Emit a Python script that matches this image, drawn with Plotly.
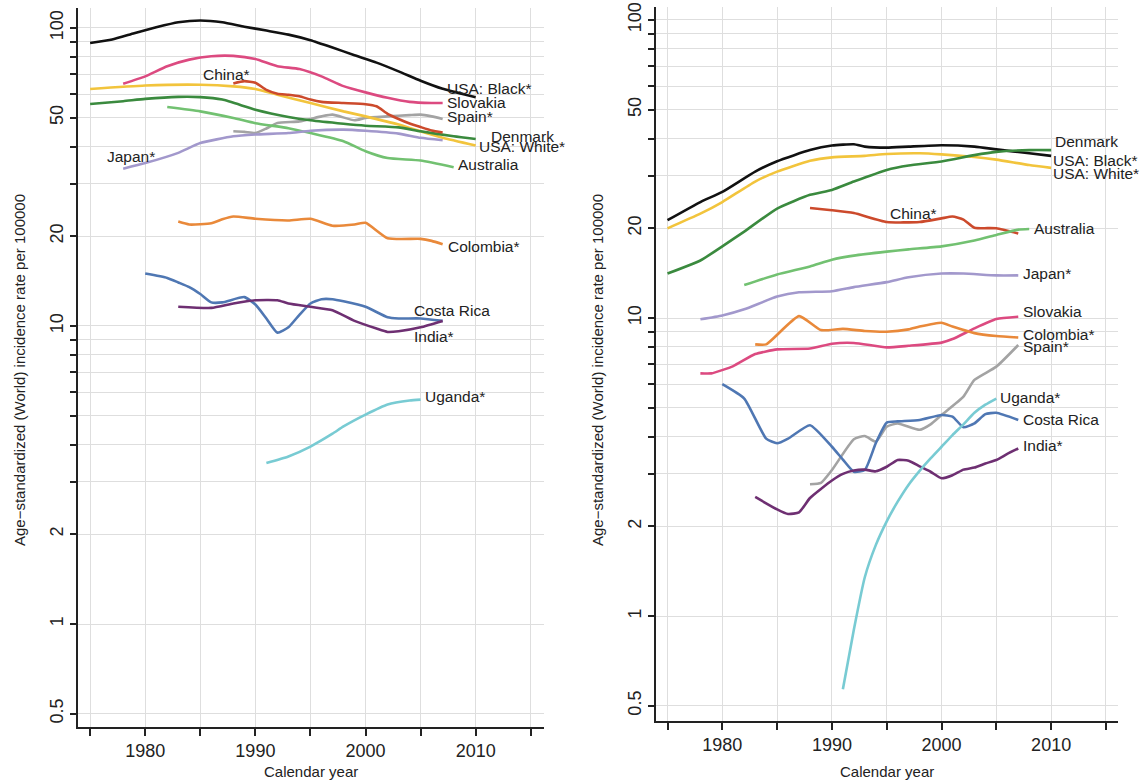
import numpy as np
import plotly.graph_objects as go

# ---------------- data: left panel ----------------
L_black_yr = [1975,1977,1979,1981,1983,1985,1987,1989,1991,1993,1995,1997,1999,2001,2003,2005,2007,2009,2010]
L_black = [89,91.5,96,100.5,104.5,106,104.5,101,98,95,91,86,81,76.5,71.5,66.5,62.5,59.8,58.6]
L_slovakia_yr = [1978,1980,1982,1984,1986,1988,1990,1992,1994,1996,1998,2000,2002,2004,2006,2007]
L_slovakia = [65,68.8,74.4,78.3,80.4,80.6,78.7,74.4,72.8,68.8,63.8,60.8,58.3,56.5,56,56]
L_china_yr = [1988,1989,1990,1991,1992,1993,1994,1995,1996,1998,2000,2001,2002,2003,2004,2005,2006,2007]
L_china = [65.1,66.3,65.5,62,60.2,59.7,59,57.5,56.5,56,55.5,54.6,51.5,49.5,47.8,46.5,45.3,44.6]
L_spain_yr = [1988,1989,1990,1991,1992,1994,1996,1997,1999,2000,2002,2004,2005,2006,2007]
L_spain = [45,44.8,44.4,46,48,48.6,50.5,51.2,49,49.9,50.5,51,51.2,50.5,49.5]
L_white_yr = [1975,1980,1985,1988,1990,1992,1995,1998,2000,2003,2005,2007,2010]
L_white = [62.4,64.1,64.5,63.7,62.4,59.7,56,52.5,50.5,47.4,45,42.8,40.3]
L_denmark_yr = [1975,1978,1980,1983,1985,1987,1990,1993,1995,1998,2000,2003,2005,2008,2010]
L_denmark = [55.6,56.8,57.8,58.7,58.6,57.5,53.2,50.3,49,47.7,47,46.4,45,43.3,42.4]
L_australia_yr = [1982,1985,1988,1990,1993,1995,1998,2000,2002,2005,2008]
L_australia = [54.3,52.5,49.9,47.9,46.1,44.4,41.7,38.6,36.6,35.9,34.1]
L_japan_yr = [1978,1980,1983,1985,1988,1990,1993,1995,1998,2000,2003,2005,2007]
L_japan = [33.7,35.2,38.1,41.1,43.3,43.9,44.4,45.2,45.6,45.2,44.2,42.8,42]
L_colombia_yr = [1983,1984,1986,1987,1988,1990,1993,1995,1997,1999,2000,2002,2005,2006,2007]
L_colombia = [22.4,21.9,22.1,22.8,23.3,22.9,22.6,22.9,21.7,21.9,22.2,19.7,19.6,19.3,18.8]
L_costa_yr = [1980,1982,1983,1984,1985,1986,1987,1989,1990,1991,1992,1993,1994,1995,1996,1997,1998,2000,2002,2003,2005,2007]
L_costa = [15.0,14.5,14.0,13.5,12.8,12.0,12.0,12.5,11.8,10.6,9.5,9.9,10.9,11.9,12.3,12.3,12.1,11.6,10.7,10.6,10.6,10.4]
L_india_yr = [1983,1986,1988,1990,1992,1993,1995,1997,1999,2001,2002,2003,2005,2007]
L_india = [11.6,11.5,11.9,12.2,12.2,11.9,11.6,11.3,10.4,9.8,9.55,9.6,9.9,10.4]
L_uganda_yr = [1991,1993,1995,1997,1998,2000,2002,2004,2005]
L_uganda = [3.47,3.65,3.94,4.35,4.6,5.04,5.45,5.62,5.66]

# ---------------- data: right panel ----------------
R_black_yr = [1975,1978,1980,1983,1985,1988,1990,1992,1993,1995,1997,2000,2003,2005,2008,2010]
R_black = [21.3,24.5,26.5,31,33.6,36.6,37.9,38.3,37.6,37.3,37.6,38,37.6,36.8,35.7,35]
R_white_yr = [1975,1978,1980,1983,1985,1988,1990,1993,1995,1998,2000,2003,2005,2008,2010]
R_white = [20,22.4,24.5,28.7,31,33.7,34.6,35,35.5,35.7,35.4,34.7,34,32.6,31.9]
R_denmark_yr = [1975,1978,1980,1982,1985,1988,1990,1992,1995,1997,2000,2003,2005,2008,2010]
R_denmark = [14.1,15.6,17.4,19.5,23.3,25.9,26.9,28.7,31.4,32.5,33.5,35.2,36.1,36.6,36.6]
R_china_yr = [1988,1990,1992,1995,1998,2000,2001,2002,2003,2005,2007]
R_china = [23.4,23,22.5,21,21,21.6,21.9,21.4,20.1,20,19.2]
R_australia_yr = [1982,1985,1988,1990,1992,1995,1997,2000,2003,2005,2007,2008]
R_australia = [12.9,14,14.9,15.7,16.2,16.7,17,17.4,18.2,19,19.8,19.9]
R_japan_yr = [1978,1980,1982,1985,1987,1990,1992,1995,1997,2000,2002,2005,2007]
R_japan = [9.9,10.2,10.7,11.8,12.2,12.3,12.7,13.2,13.7,14.1,14.1,13.9,13.9]
R_slovakia_yr = [1978,1979,1981,1983,1985,1988,1990,1992,1995,1997,2000,2001,2003,2005,2007]
R_slovakia = [6.52,6.52,6.9,7.57,7.85,7.9,8.2,8.25,7.97,8.07,8.27,8.5,9.23,9.92,10.1]
R_colombia_yr = [1983,1984,1987,1989,1991,1993,1995,1997,1998,2000,2001,2003,2005,2007]
R_colombia = [8.16,8.16,10.15,9.11,9.2,9.05,9.0,9.16,9.36,9.64,9.36,8.9,8.7,8.6]
R_spain_yr = [1988,1989,1990,1992,1993,1994,1995,1996,1998,1999,2000,2002,2003,2005,2007]
R_spain = [2.77,2.8,3.09,3.92,4.02,3.85,4.32,4.43,4.22,4.4,4.73,5.45,6.2,6.87,8.12]
R_uganda_yr = [1991,1992,1993,1994,1995,1996,1997,1998,1999,2000,2001,2002,2003,2004,2005]
R_uganda = [0.568,0.9,1.35,1.73,2.08,2.42,2.76,3.07,3.38,3.7,4.05,4.4,4.81,5.12,5.37]
R_costa_yr = [1980,1982,1984,1985,1986,1988,1990,1991,1992,1993,1994,1995,1996,1998,2000,2001,2002,2003,2004,2005,2007]
R_costa = [6.0,5.37,3.94,3.80,3.94,4.37,3.70,3.35,3.05,3.09,3.80,4.46,4.5,4.55,4.73,4.67,4.3,4.43,4.76,4.81,4.55]
R_india_yr = [1983,1985,1986,1987,1988,1990,1991,1992,1993,1994,1995,1996,1997,1998,1999,2000,2001,2002,2003,2004,2005,2006,2007]
R_india = [2.51,2.28,2.2,2.23,2.49,2.85,3.0,3.08,3.1,3.06,3.17,3.34,3.32,3.18,3.05,2.9,2.97,3.1,3.15,3.25,3.34,3.5,3.65]

# label positions (year, value)
L_labels = [("USA: Black*", 2007.3, 62.5), ("Slovakia", 2007.3, 56.1), ("Spain*", 2007.3, 50.3),
            ("Denmark", 2011.3, 43.2), ("USA: White*", 2010.2, 40.0), ("Australia", 2008.3, 34.8),
            ("Japan*", 1976.4, 37.0), ("China*", 1985.2, 69.7), ("Colombia*", 2007.4, 18.5),
            ("Costa Rica", 2004.3, 11.3), ("India*", 2004.3, 9.2), ("Uganda*", 2005.3, 5.8)]
R_labels = [("Denmark", 2010.3, 39.0), ("USA: Black*", 2010.1, 33.9), ("USA: White*", 2010.1, 30.6),
            ("China*", 1995.2, 22.5), ("Australia", 2008.3, 20.0), ("Japan*", 2007.3, 14.1),
            ("Slovakia", 2007.3, 10.5), ("Colombia*", 2007.3, 8.83), ("Spain*", 2007.3, 8.0),
            ("Uganda*", 2005.2, 5.43), ("Costa Rica", 2007.3, 4.58), ("India*", 2007.3, 3.75)]

grid_vals = [0.5, 1, 2, 3, 4, 5, 6, 7, 8, 9, 10, 20, 30, 40, 50, 60, 70, 80, 90, 100]
label_vals = {0.5: "0.5", 1: "1", 2: "2", 10: "10", 20: "20", 50: "50", 100: "100"}
x_ticks = [1975, 1980, 1985, 1990, 1995, 2000, 2005, 2010, 2015]
x_labels = {1980: "1980", 1990: "1990", 2000: "2000", 2010: "2010"}

colors = {
    "black": "#111111", "slovakia": "#dc4a80", "china": "#cc4a2c", "spain": "#a3a3a3",
    "white": "#f2c43c", "denmark": "#3a8a3e", "australia": "#72c171", "japan": "#a298cc",
    "colombia": "#e9893a", "costa": "#4f77b3", "india": "#6e2f72", "uganda": "#78cbd3",
}

FONT = "Liberation Sans, Arial, sans-serif"
LABEL_SIZE = 15.5
# the page's body margin is removed (post_script) so the figure fills the window
W, H = 1144, 782
def px(p):
    return min(1.0, max(0.0, p / W))
def py(p):
    return min(1.0, max(0.0, 1 - p / H))

fig = go.Figure()

left = [("black", L_black_yr, L_black), ("slovakia", L_slovakia_yr, L_slovakia), ("spain", L_spain_yr, L_spain),
        ("white", L_white_yr, L_white), ("denmark", L_denmark_yr, L_denmark), ("australia", L_australia_yr, L_australia),
        ("japan", L_japan_yr, L_japan), ("china", L_china_yr, L_china), ("colombia", L_colombia_yr, L_colombia),
        ("costa", L_costa_yr, L_costa), ("india", L_india_yr, L_india), ("uganda", L_uganda_yr, L_uganda)]
right = [("black", R_black_yr, R_black), ("white", R_white_yr, R_white), ("denmark", R_denmark_yr, R_denmark),
         ("china", R_china_yr, R_china), ("australia", R_australia_yr, R_australia), ("japan", R_japan_yr, R_japan),
         ("slovakia", R_slovakia_yr, R_slovakia), ("colombia", R_colombia_yr, R_colombia), ("spain", R_spain_yr, R_spain),
         ("costa", R_costa_yr, R_costa), ("india", R_india_yr, R_india), ("uganda", R_uganda_yr, R_uganda)]

for key, xs, ys in left:
    fig.add_trace(go.Scatter(x=xs, y=ys, mode="lines", xaxis="x", yaxis="y",
                             line=dict(color=colors[key], width=2.6, shape="spline", smoothing=0.5),
                             showlegend=False, hoverinfo="skip"))
for key, xs, ys in right:
    fig.add_trace(go.Scatter(x=xs, y=ys, mode="lines", xaxis="x2", yaxis="y2",
                             line=dict(color=colors[key], width=2.6, shape="spline", smoothing=0.5),
                             showlegend=False, hoverinfo="skip"))

annotations = []
for txt, xx, yy in L_labels:
    annotations.append(dict(text=txt, x=xx, y=np.log10(yy), xref="x", yref="y", xanchor="left",
                            yanchor="middle", showarrow=False, borderpad=0,
                            font=dict(size=LABEL_SIZE, color="#222", family=FONT)))
for txt, xx, yy in R_labels:
    annotations.append(dict(text=txt, x=xx, y=np.log10(yy), xref="x2", yref="y2", xanchor="left",
                            yanchor="middle", showarrow=False, borderpad=0,
                            font=dict(size=LABEL_SIZE, color="#222", family=FONT)))

ytitle = "Age\u2212standardized (World) incidence rate per 100000"
for xp in (px(19), px(597)):
    annotations.append(dict(text=ytitle, x=xp, y=py(370), xref="paper", yref="paper", textangle=-90,
                            showarrow=False, xanchor="center", yanchor="middle",
                            font=dict(size=15, color="#222", family=FONT)))
for xp in (px(311), px(887)):
    annotations.append(dict(text="Calendar year", x=xp, y=py(771), xref="paper", yref="paper",
                            showarrow=False, xanchor="center", yanchor="middle",
                            font=dict(size=15, color="#222", family=FONT)))

def xaxis(domain, rng):
    return dict(domain=domain, range=rng, tickmode="array", tickvals=x_ticks,
                ticktext=[x_labels.get(v, "") for v in x_ticks], ticks="outside", ticklen=7,
                tickwidth=1.5, tickcolor="#222", showline=True, linecolor="#222", linewidth=1.6,
                showgrid=True, gridcolor="#dedede", gridwidth=1, zeroline=False, automargin=False,
                tickfont=dict(size=18, color="#222", family=FONT))

def yaxis(domain, rng, anchor):
    return dict(domain=domain, type="log", range=rng, tickmode="array", tickvals=grid_vals,
                ticktext=[label_vals.get(v, "") for v in grid_vals], ticks="outside", ticklen=6,
                tickwidth=1.5, tickcolor="#222", showline=True, linecolor="#222", linewidth=1.6,
                showgrid=True, gridcolor="#dedede", gridwidth=1, zeroline=False, tickangle=-90,
                ticklabeloverflow="allow", automargin=False,
                anchor=anchor, tickfont=dict(size=18, color="#222", family=FONT))

fig.update_layout(
    width=W, height=H, margin=dict(l=0, r=0, t=0, b=0, autoexpand=False),
    paper_bgcolor="white", plot_bgcolor="white",
    xaxis=xaxis([px(78), px(544)], [1973.9, 2016.2]),
    yaxis=yaxis([py(727), py(8)], [-0.3456, 2.067], "x"),
    xaxis2=xaxis([px(656), px(1118)], [1973.95, 2016.1]),
    yaxis2=yaxis([py(721), py(7)], [-0.352, 2.0436], "x2"),
    annotations=annotations,
)
fig.layout.xaxis.anchor = "y"
fig.layout.xaxis2.anchor = "y2"

fig.write_html("out.html", config={"displayModeBar": False},
               post_script="document.body.style.margin='0';document.body.style.overflow='hidden';")
